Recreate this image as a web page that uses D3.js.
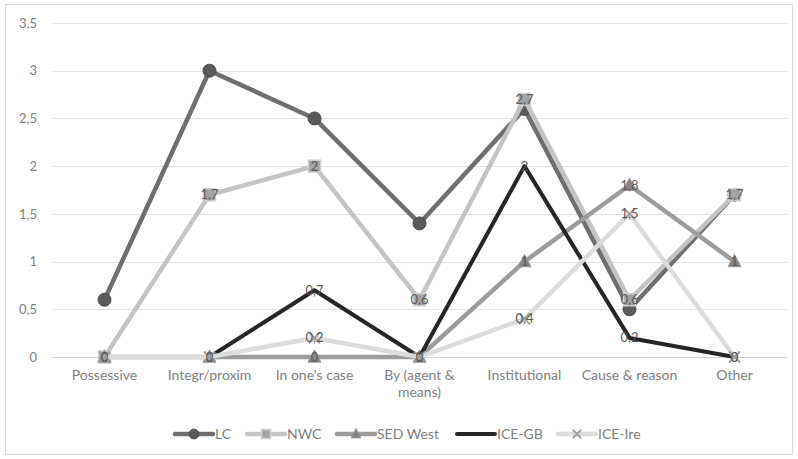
<!DOCTYPE html>
<html><head><meta charset="utf-8">
<script src="https://cdn.jsdelivr.net/npm/d3@7"></script>
<style>
body{margin:0;background:#fff;}
svg{display:block;font-family:Lato,"Open Sans",sans-serif;}
</style></head><body>
<svg id="c" width="798" height="459"></svg>
<script>
const categories = ["Possessive","Integr/proxim","In one's case","By (agent & means)","Institutional","Cause & reason","Other"];
const seriesNames = ["LC","NWC","SED West","ICE-GB","ICE-Ire"];
const LC      = [0.6, 3, 2.5, 1.4, 2.6, 0.5, 1.7];
const NWC     = [0, 1.7, 2, 0.6, 2.7, 0.6, 1.7];
const SEDWest = [0, 0, 0, 0, 1, 1.8, 1];
const ICEGB   = [null, 0, 0.7, 0, 2, 0.2, 0];
const ICEIre  = [0, 0, 0.2, 0, 0.4, 1.5, 0];
const yTicks  = [0, 0.5, 1, 1.5, 2, 2.5, 3, 3.5];

const styles = {
  "LC":      {stroke:"#6f6f6f", width:4.5, marker:"circle",   mfill:"#5a5a5a", labels:false},
  "NWC":     {stroke:"#c4c4c4", width:4.5, marker:"square",   mfill:"#a3a3a3", labels:true},
  "SED West":{stroke:"#9c9c9c", width:4.5, marker:"triangle", mfill:"#858585", labels:true},
  "ICE-GB":  {stroke:"#262626", width:4,   marker:"none",     mfill:"none",    labels:true},
  "ICE-Ire": {stroke:"#dcdcdc", width:4.5, marker:"x",        mfill:"#9a9a9a", labels:true}
};
const dataBy = {"LC":LC,"NWC":NWC,"SED West":SEDWest,"ICE-GB":ICEGB,"ICE-Ire":ICEIre};

const svg = d3.select("#c");
svg.append("rect").attr("x",5.5).attr("y",4.5).attr("width",787).attr("height",450)
  .attr("fill","#fff").attr("stroke","#d9d9d9");

const x = d3.scaleBand().domain(categories).range([52,787]).padding(0);
const cx = c => x(c) + x.bandwidth()/2;
const y = d3.scaleLinear().domain([0,3.5]).range([357,23]);
const fmt = v => String(v).replace(".", ",");

svg.append("g").selectAll("line").data(yTicks).join("line")
  .attr("x1",52).attr("x2",787).attr("y1",d=>Math.round(y(d))+0.5).attr("y2",d=>Math.round(y(d))+0.5)
  .attr("stroke",d=>d===0?"#d0d0d0":"#e3e3e3").attr("stroke-width",1);

const yAxis = d3.axisLeft(y).tickValues(yTicks).tickFormat(fmt).tickSize(0).tickPadding(0);
const gy = svg.append("g").attr("transform","translate(37,0)").call(yAxis);
gy.select(".domain").remove();
gy.selectAll("text").attr("fill","#7f7f7f").style("font-size","13px").style("font-family","Lato,'Open Sans',sans-serif");

const xAxis = d3.axisBottom(x).tickSize(0).tickPadding(0);
const gx = svg.append("g").attr("transform","translate(0,370)").call(xAxis);
gx.select(".domain").remove();
gx.selectAll("text").attr("fill","#7f7f7f").style("font-size","14px").style("font-family","Lato,'Open Sans',sans-serif")
  .each(function(d){
    if (d === "By (agent & means)") {
      const t = d3.select(this); t.text(null);
      t.append("tspan").attr("x",0).attr("dy","0.71em").text("By (agent &");
      t.append("tspan").attr("x",0).attr("dy","1.25em").text("means)");
      t.attr("dy",null);
    }
  });

function drawMarker(g, type, px, py, fill, scale=1){
  if (type==="circle"){
    g.append("circle").attr("cx",px).attr("cy",py).attr("r",6.5*scale).attr("fill",fill).attr("stroke","#4a4a4a").attr("stroke-width",1);
  } else if (type==="square"){
    const s=12*scale;
    g.append("rect").attr("x",px-s/2).attr("y",py-s/2).attr("width",s).attr("height",s).attr("fill",fill).attr("stroke","#d0d0d0").attr("stroke-width",1.5);
  } else if (type==="triangle"){
    const s=6.5*scale;
    g.append("path").attr("d",`M${px},${py-s*1.1}L${px+s},${py+s*0.8}L${px-s},${py+s*0.8}Z`).attr("fill",fill).attr("stroke","#9a9a9a").attr("stroke-width",1);
  } else if (type==="x"){
    const s=5.5*scale;
    g.append("path").attr("d",`M${px-s},${py-s}L${px+s},${py+s}M${px+s},${py-s}L${px-s},${py+s}`).attr("stroke",fill).attr("stroke-width",1.8).attr("fill","none");
  }
}

const line = d3.line().defined(d=>d.v!==null).x(d=>cx(d.c)).y(d=>y(d.v));
const plot = svg.append("g");
seriesNames.forEach(name=>{
  const st = styles[name];
  const pts = categories.map((c,i)=>({c, v:dataBy[name][i]}));
  const g = plot.append("g");
  g.append("path").datum(pts).attr("d",line).attr("fill","none")
    .attr("stroke",st.stroke).attr("stroke-width",st.width).attr("stroke-linejoin","round").attr("stroke-linecap","round");
  pts.filter(p=>p.v!==null).forEach(p=>drawMarker(g, st.marker, cx(p.c), y(p.v), st.mfill));
  if (st.labels){
    g.selectAll("text.lbl").data(pts.filter(p=>p.v!==null)).join("text")
      .attr("x",p=>cx(p.c)).attr("y",p=>y(p.v)).attr("dy","0.35em").attr("text-anchor","middle")
      .attr("fill","#5a5a5a").style("font-size","13px").text(p=>fmt(p.v));
  }
});

const legendX = [175, 247, 337, 457, 558];
const lg = svg.append("g");
seriesNames.forEach((name,i)=>{
  const st = styles[name];
  const lx = legendX[i], ly = 434;
  lg.append("line").attr("x1",lx).attr("x2",lx+38).attr("y1",ly).attr("y2",ly)
    .attr("stroke",st.stroke).attr("stroke-width",st.width).attr("stroke-linecap","round");
  drawMarker(lg, st.marker, lx+19, ly, st.mfill, 0.75);
  lg.append("text").attr("x",lx+40).attr("y",ly).attr("dy","0.35em").attr("fill","#7f7f7f")
    .style("font-size","14px").text(name);
});
</script>
</body></html>
